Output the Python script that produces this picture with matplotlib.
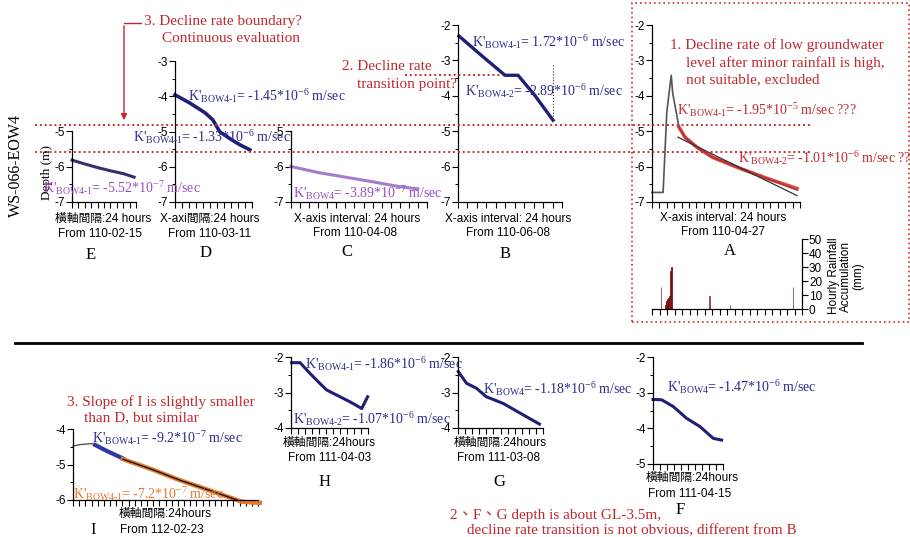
import matplotlib
matplotlib.use('Agg')
import matplotlib.pyplot as plt
from matplotlib.lines import Line2D
from matplotlib.patches import Rectangle, FancyArrowPatch
from matplotlib.ticker import MultipleLocator

plt.rcParams['axes.unicode_minus'] = False
plt.rcParams['mathtext.fontset'] = 'custom'
plt.rcParams['mathtext.rm'] = 'Liberation Serif'
plt.rcParams['mathtext.it'] = 'Liberation Serif:italic'
plt.rcParams['mathtext.bf'] = 'Liberation Serif:bold'

SANS = ['Liberation Sans', 'Noto Sans CJK TC']
SERIF = ['Liberation Serif', 'Noto Sans CJK TC']

# ---------------- data (days from start, depth in m) ----------------
t_E = [0, 2, 4, 6, 8, 9.7]
d_E = [-5.82, -5.93, -6.03, -6.12, -6.2, -6.3]

t_D = [0, 2.1, 4.3, 5.4, 6.4, 7.9, 9.3, 10.7]
d_D = [-3.96, -4.19, -4.47, -4.67, -5.01, -5.21, -5.38, -5.52]

t_C = [0, 3, 6, 9, 12, 14]
d_C = [-6.0, -6.17, -6.3, -6.43, -6.57, -6.63]

t_B = [0.1, 2.3, 4.97, 6.35, 8.1, 10.05]
d_B = [-2.31, -2.82, -3.42, -3.42, -3.98, -4.69]
B_mark_t = 10.05
B_mark_d = [-3.13, -4.69]

t_A = [0, 1.5, 2.0, 2.6, 2.8, 3.65, 4.46, 6.1, 8.2, 11.9, 15.5, 19.6]
d_A = [-6.73, -6.73, -4.46, -3.42, -3.93, -4.89, -5.17, -5.46, -5.74, -6.05, -6.33, -6.66]
t_A_red = [3.65, 4.46, 6.1, 8.2, 11.9, 15.5, 19.6]
d_A_red = [-4.89, -5.17, -5.46, -5.74, -6.05, -6.33, -6.62]
t_A_fit = [3.5, 19.6]
d_A_fit = [-5.17, -6.82]

rain_t = [1.2, 1.8, 1.9, 2.0, 2.1, 2.2, 2.3, 2.4, 2.5, 2.57, 7.7, 10.4, 18.8]
rain_mm = [16, 3, 5, 6, 7, 8, 8, 9, 27, 30, 9, 3, 16]

t_I_gray = [0, 1.1, 3.1, 3.6]
d_I_gray = [-4.48, -4.44, -4.41, -4.45]
t_I_blue = [3.6, 5.5, 8.1]
d_I_blue = [-4.45, -4.62, -4.83]
t_I_orange = [8.1, 13, 17.3, 22, 26.6, 27.4, 30.3]
d_I_orange = [-4.85, -5.15, -5.44, -5.72, -6.0, -6.05, -6.08]
t_I_black = [8.1, 13, 17.3, 22, 26.6]
d_I_black = [-4.85, -5.15, -5.44, -5.72, -6.0]

t_H = [0.1, 1.3, 2.7, 4.1, 5.1, 6.5, 8.4, 10.1, 10.95]
d_H = [-2.16, -2.16, -2.46, -2.74, -2.93, -3.07, -3.26, -3.45, -3.12]

t_G = [0.04, 1.2, 2.6, 4.0, 6.4, 9.2, 11.5]
d_G = [-2.41, -2.74, -2.88, -3.12, -3.31, -3.63, -3.89]

t_F = [0, 1.24, 2.9, 4.8, 6.7, 8.6, 9.8]
d_F = [-3.19, -3.2, -3.39, -3.72, -3.95, -4.28, -4.33]

# ---------------- colours ----------------
NAVY = '#1f1f78'
BLUE_T = '#2b2b8e'
PURP_T = '#9a4cc0'
PURP_L = '#a47ccb'
RED_T = '#c0282e'
ORANGE = '#e8782a'
GRAY = '#555555'

W, H = 910, 537
fig = plt.figure(figsize=(W / 100, H / 100), dpi=100)


def fx(x):
    return x / W


def fy(y):
    return 1 - y / H


def add_ax(x0, x1, ytop, ybot, ylim, xmax):
    ax = fig.add_axes([x0 / W, 1 - ybot / H, (x1 - x0) / W, (ybot - ytop) / H])
    ax.set_xlim(0, xmax)
    ax.set_ylim(*ylim)
    ax.patch.set_alpha(0)
    for s in ['top', 'right']:
        ax.spines[s].set_visible(False)
    for s in ['left', 'bottom']:
        ax.spines[s].set_linewidth(0.9)
    ax.xaxis.set_major_locator(MultipleLocator(1))
    ax.yaxis.set_major_locator(MultipleLocator(1))
    ax.yaxis.set_minor_locator(MultipleLocator(0.5))
    ax.tick_params(axis='x', which='major', length=4, width=0.8, labelbottom=False)
    ax.tick_params(axis='y', which='major', length=4, width=0.8, labelsize=8.5, pad=1)
    ax.tick_params(axis='y', which='minor', length=2.5, width=0.7)
    for lab in ax.get_yticklabels():
        lab.set_family(SANS)
    return ax


def T(x, y, s, ha='left', size=11, color='black', family=SERIF, **kw):
    fig.text(fx(x), fy(y), s, ha=ha, va='center', fontsize=size, color=color,
             family=family, **kw)


def K(sub, val, exp, tail=' m/sec'):
    sub_m = sub.replace('-', r'}\text{-}\mathrm{')
    return (r"K'$_{\mathrm{" + sub_m + r"}}$= " + val + r"*10$^{" + exp + r"}$" + tail)


# ---------------- panels ----------------
axE = add_ax(72, 136, 131, 202, (-7, -5), 10)
axE.plot(t_E, d_E, color='#3a2d6e', lw=2.2, clip_on=False)

axD = add_ax(175, 252, 61, 202, (-7, -3), 11)
axD.plot(t_D, d_D, color=NAVY, lw=2.6, clip_on=False)

axC = add_ax(291, 427, 131, 202, (-7, -5), 15)
axC.plot(t_C, d_C, color=PURP_L, lw=2.2, clip_on=False)

axB = add_ax(458, 562, 25, 202, (-7, -2), 11)
axB.plot(t_B, d_B, color=NAVY, lw=2.4, clip_on=False)
axB.plot([B_mark_t, B_mark_t], B_mark_d, color='#333333', lw=0.8, ls=':')

axA = add_ax(652, 800, 25, 202, (-7, -2), 20)
axA.plot(t_A, d_A, color=GRAY, lw=1.2, clip_on=False)
axA.plot(t_A_red, d_A_red, color='#d42a2a', lw=2.6, alpha=0.85, clip_on=False)
axA.plot(t_A_fit, d_A_fit, color='#333333', lw=0.9, clip_on=False)

axR = fig.add_axes([652 / W, 1 - 309 / H, (802 - 652) / W, (309 - 239) / H])
axR.patch.set_alpha(0)
axR.set_xlim(0, 20)
axR.set_ylim(0, 50)
for s in ['top', 'left']:
    axR.spines[s].set_visible(False)
axR.spines['right'].set_linewidth(0.9)
axR.spines['bottom'].set_linewidth(0.9)
axR.yaxis.tick_right()
axR.xaxis.set_major_locator(MultipleLocator(1))
axR.yaxis.set_major_locator(MultipleLocator(10))
axR.tick_params(axis='x', length=4, width=0.8, labelbottom=False)
axR.tick_params(axis='y', length=4, width=0.8, labelsize=8.5, pad=1)
for lab in axR.get_yticklabels():
    lab.set_family(SANS)
cols = ['#7a1414' if 1.7 < t < 2.7 else '#8b4545' for t in rain_t]
widths = [0.16 if 1.7 < t < 2.7 else 0.08 for t in rain_t]
axR.bar(rain_t, rain_mm, width=widths, color=cols, edgecolor=cols, linewidth=0.6)

axI = add_ax(73, 258, 429, 500, (-6, -4), 30)
axI.plot(t_I_gray, d_I_gray, color=GRAY, lw=1.0, clip_on=False)
axI.plot(t_I_blue, d_I_blue, color='#2a3aa0', lw=3.0, clip_on=False)
axI.plot(t_I_orange, d_I_orange, color=ORANGE, lw=3.2, clip_on=False)
axI.plot(t_I_black, d_I_black, color='#1a1a1a', lw=1.0, clip_on=False)

axH = add_ax(291, 368, 357, 428, (-4, -2), 11)
axH.plot(t_H, d_H, color=NAVY, lw=2.2, clip_on=False)

axG = add_ax(458, 543, 357, 428, (-4, -2), 12)
axG.plot(t_G, d_G, color=NAVY, lw=2.2, clip_on=False)

axF = add_ax(653, 723, 357, 464, (-5, -2), 10)
axF.plot(t_F, d_F, color=NAVY, lw=2.2, clip_on=False)

# ---------------- decorations ----------------
for yy in (124.5, 152):
    fig.add_artist(Line2D([fx(35), fx(812)], [fy(yy), fy(yy)], color='#c83030',
                          lw=1.4, ls=(0, (1, 1.5))))
fig.add_artist(Line2D([fx(405), fx(503)], [fy(75), fy(75)], color='#c83030',
                      lw=1.4, ls=(0, (1, 1.5))))
fig.add_artist(Rectangle((fx(632), fy(322)), fx(909) - fx(632), fy(3) - fy(322),
                         transform=fig.transFigure, fill=False, ec='#c83030',
                         lw=1.2, ls=(0, (1, 1.8))))
fig.add_artist(Line2D([fx(15), fx(862)], [fy(343), fy(343)], color='black', lw=2))
fig.add_artist(Line2D([fx(141), fx(124)], [fy(23), fy(23)], color=RED_T, lw=1))
fig.add_artist(FancyArrowPatch((fx(124), fy(23)), (fx(124), fy(123)),
                               transform=fig.transFigure, arrowstyle='-|>',
                               mutation_scale=9, color=RED_T, lw=1))

# y-axis title
fig.text(fx(16), fy(165), 'WS-066-EOW4', rotation=90, ha='center', va='center',
         fontsize=11.5, family=SERIF)
fig.text(fx(47), fy(173), 'Depth (m)', rotation=90, ha='center', va='center',
         fontsize=9.5, family=SERIF)

# axis captions
captions = [
    ('橫軸間隔:24 hours', 'From 110-02-15', 'E', 103, 219, 100, 234, 91, 255),
    ('X-axi間隔:24 hours', 'From 110-03-11', 'D', 210, 219, 210, 234, 206, 253),
    ('X-axis interval: 24 hours', 'From 110-04-08', 'C', 357, 219, 355, 233, 347, 252),
    ('X-axis interval: 24 hours', 'From 110-06-08', 'B', 508, 219, 508, 233, 505, 254),
    ('X-axis interval: 24 hours', 'From 110-04-27', 'A', 723, 218, 723, 232, 730, 251),
    ('橫軸間隔:24hours', 'From 112-02-23', 'I', 165, 514, 162, 530, 93, 530),
    ('橫軸間隔:24hours', 'From 111-04-03', 'H', 329, 443, 330, 458, 325, 482),
    ('橫軸間隔:24hours', 'From 111-03-08', 'G', 500, 443, 498, 458, 499, 482),
    ('橫軸間隔:24hours', 'From 111-04-15', 'F', 692, 478, 690, 494, 680, 510),
]
for l1, l2, let, x1, y1, x2, y2, x3, y3 in captions:
    T(x1, y1, l1, ha='center', size=8.5, family=SANS)
    T(x2, y2, l2, ha='center', size=8.5, family=SANS)
    T(x3, y3, let, ha='center', size=12, family=SERIF)

# rainfall label
fig.text(fx(846), fy(276), 'Hourly Rainfall\nAccumulation\n(mm)', rotation=90,
         ha='center', va='center', fontsize=8.5, family=SANS, multialignment='center',
         linespacing=1.0)

# K' annotations
kann = [
    (188, 96, BLUE_T, K('BOW4-1', '-1.45', '-6')),
    (133, 137, BLUE_T, K('BOW4-1', '-1.33', '-6')),
    (43, 188, PURP_T, K('BOW4-1', '-5.52', '-7')),
    (293, 193, PURP_T, K('BOW4', '-3.89', '-7')),
    (472, 42, BLUE_T, K('BOW4-1', '1.72', '-6')),
    (465, 91, BLUE_T, K('BOW4-2', '-2.89', '-6')),
    (677, 110, RED_T, K('BOW4-1', '-1.95', '-5', ' m/sec ???')),
    (738, 158, RED_T, K('BOW4-2', '-1.01', '-6', ' m/sec ??')),
    (92, 438, BLUE_T, K('BOW4-1', '-9.2', '-7')),
    (73, 494, ORANGE, K('BOW4-1', '-7.2', '-7')),
    (305, 364, BLUE_T, K('BOW4-1', '-1.86', '-6')),
    (293, 419, BLUE_T, K('BOW4-2', '-1.07', '-6')),
    (483, 389, BLUE_T, K('BOW4', '-1.18', '-6')),
    (667, 387, BLUE_T, K('BOW4', '-1.47', '-6')),
]
for x, y, c, s in kann:
    T(x, y, s, color=c, size=10)

# red notes
notes = [
    (144, 22, '3. Decline rate boundary?'),
    (162, 38, 'Continuous evaluation'),
    (342, 67, '2. Decline rate'),
    (357, 84, 'transition point?'),
    (670, 45, '1. Decline rate of low groundwater'),
    (686, 63, 'level after minor rainfall is high,'),
    (686, 80, 'not suitable, excluded'),
    (67, 402, '3. Slope of I is slightly smaller'),
    (84, 418, 'than D, but similar'),
    (450, 515, '2、F、G depth is about GL-3.5m,'),
    (467, 531, 'decline rate transition is not obvious, different from B'),
]
for x, y, s in notes:
    T(x, y, s, color=RED_T, size=11)

fig.savefig('out.png', dpi=100)
